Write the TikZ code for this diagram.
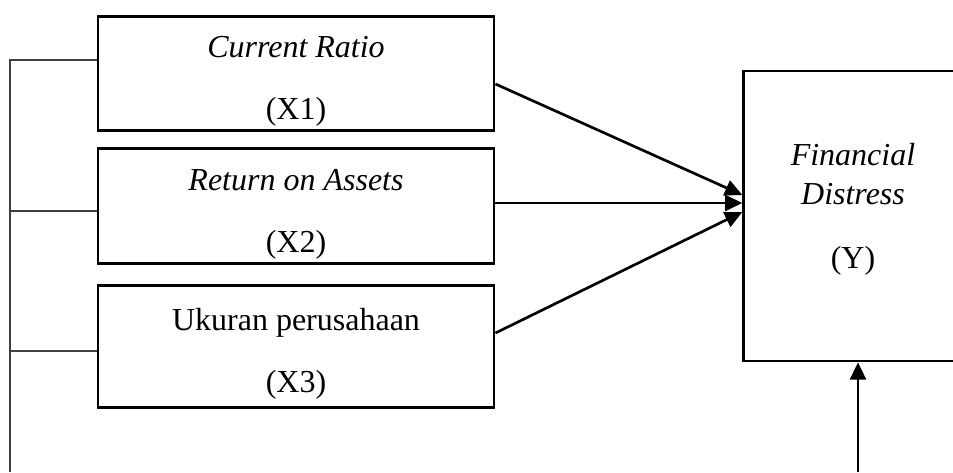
\documentclass[tikz,border=0pt]{standalone}
\usepackage{fontspec}
\setmainfont{Liberation Serif}
\usetikzlibrary{arrows.meta}
\tikzset{
  varbox/.style={draw,line width=1.1pt,minimum width=148.5pt,inner sep=0pt,align=center,
    font=\fontsize{12}{23.25}\selectfont},
  ybox/.style={draw,line width=1pt,minimum width=112pt,minimum height=108.75pt,inner sep=0pt},
  arr/.style={line width=1pt,-{Triangle[length=6.5pt,width=6pt]}},
  thinline/.style={line width=.55pt,black!75}
}
\newcommand{\toppad}{\rule{0pt}{14pt}}
\begin{document}
\begin{tikzpicture}[x=0.375pt,y=-0.375pt]
  \useasboundingbox (0,0) rectangle (953,472);
  % variabel bebas
  \node[varbox,minimum height=42.75pt] (x1) at (296,73.5) {\toppad\textit{Current Ratio}\\(X1)};
  \node[varbox,minimum height=43pt] (x2) at (296,206) {\toppad\textit{Return on Assets}\\(X2)};
  \node[varbox,minimum height=45.5pt] (x3) at (296,346.5) {\toppad Ukuran perusahaan\\(X3)};
  % variabel terikat
  \node[ybox] (y) at (893,216) {};
  \node[align=center,font=\fontsize{12}{14.6}\selectfont] (ytext) at (853,209.5)
    {\textit{Financial}\\\textit{Distress}\\[9.4pt](Y)};
  \coordinate (bl) at (10,472);
  \coordinate (br) at (858,472);
  % garis kiri
  \draw[thinline] (bl) -- (10,60) -- (x1.west |- 10,60);
  \draw[thinline] (10,211) -- (x2.west |- 10,211);
  \draw[thinline] (10,351) -- (x3.west |- 10,351);
  % panah
  \draw[arr] (x1.east |- 0,84) -- (y.west |- 0,195);
  \draw[arr] (x2.east |- 0,203) -- (y.west |- 0,203);
  \draw[arr] (x3.east |- 0,333) -- (y.west |- 0,212);
  \draw[arr] (br) -- (y.south -| br);
\end{tikzpicture}
\end{document}
